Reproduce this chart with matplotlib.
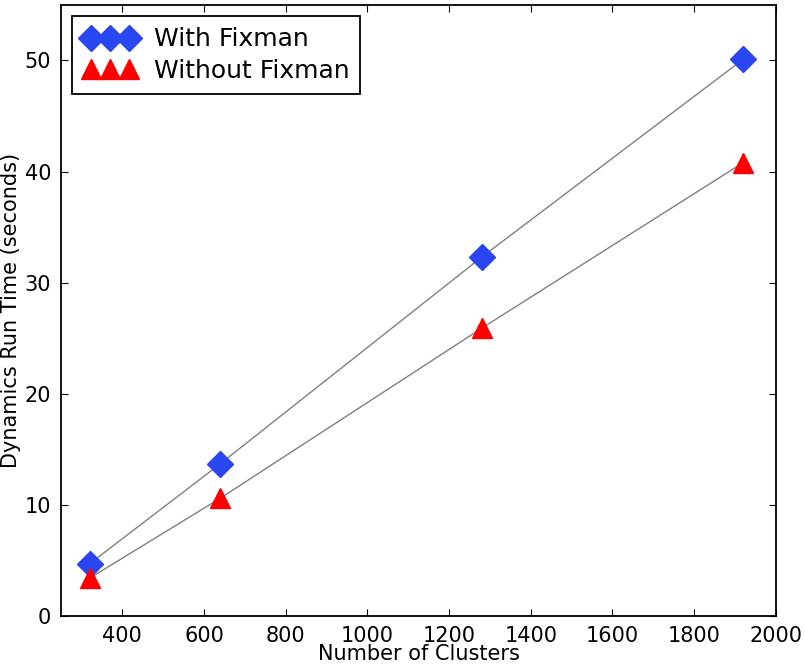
import matplotlib
matplotlib.use('Agg')
import matplotlib.pyplot as plt

clusters = [320, 640, 1280, 1920]
with_fixman = [4.7, 13.7, 32.3, 50.1]
without_fixman = [3.4, 10.6, 25.9, 40.8]

plt.rcParams.update({
    'font.family': 'DejaVu Sans', 'font.size': 15,
    'xtick.direction': 'in', 'ytick.direction': 'in',
    'xtick.top': True, 'ytick.right': True,
    'xtick.major.size': 5, 'ytick.major.size': 5,
    'xtick.major.pad': 7, 'ytick.major.pad': 7,
    'axes.linewidth': 1.3,
})

fig = plt.figure(figsize=(8.05, 6.65), dpi=100)
ax = fig.add_axes([0.0758, 0.0737, 0.888, 0.919])

ax.plot(clusters, with_fixman, '-', color='gray', lw=1)
ax.plot(clusters, without_fixman, '-', color='gray', lw=1)
ax.plot(clusters, with_fixman, 'D', color='#2a45f2', mec='#2a45f2', ms=13,
        ls='none', label='With Fixman')
ax.plot(clusters, without_fixman, '^', color='#ff0000', mec='#ff0000', ms=14,
        ls='none', label='Without Fixman')

ax.set_xlim(250, 2000)
ax.set_ylim(0, 55)
ax.set_xticks(range(400, 2001, 200))
ax.set_yticks(range(0, 51, 10))
ax.set_xlabel('Number of Clusters', labelpad=-1)
ax.set_ylabel('Dynamics Run Time (seconds)', labelpad=3)

leg = ax.legend(loc='upper left', numpoints=3, fontsize=18, fancybox=False,
                framealpha=1, edgecolor='black', borderaxespad=0.45,
                handletextpad=0.7, borderpad=0.45, labelspacing=0.3,
                handlelength=2.1)
leg.get_frame().set_linewidth(1.3)

fig.savefig('out.png', dpi=100)
